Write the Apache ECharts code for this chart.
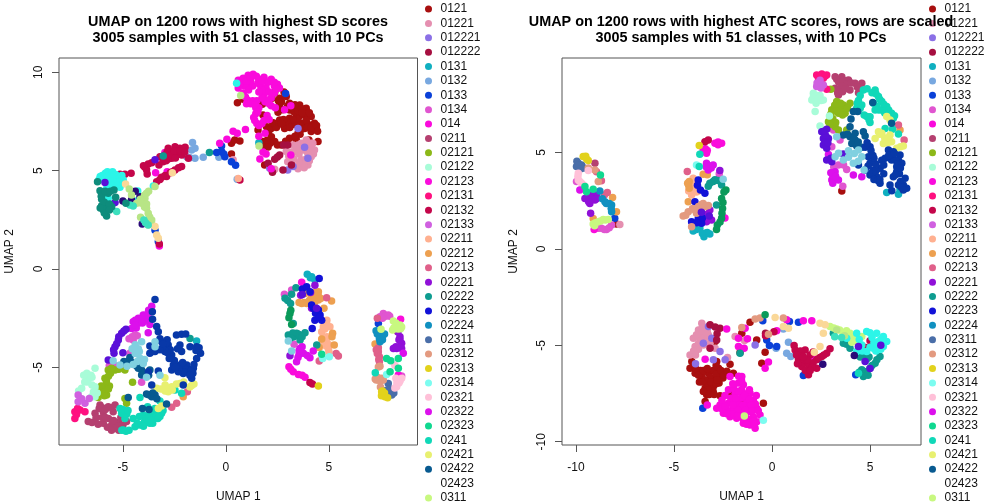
<!DOCTYPE html>
<html>
<head>
<meta charset="utf-8">
<style>html,body{margin:0;padding:0;background:#fff}#chart{width:1008px;height:504px}</style>
<script src="https://cdn.jsdelivr.net/npm/echarts@6/dist/echarts.min.js"></script>
</head>
<body>
<div id="chart"></div>
<script>
// class labels shown in the legends (the list is cut off at the window bottom)
const legendNames = ['0121','01221','012221','012222','0131','0132','0133','0134','014','0211','02121','02122','02123','02131','02132','02133','02211','02212','02213','02221','02222','02223','02224','02311','02312','02313','02314','02321','02322','02323','0241','02421','02422','02423','0311'];
// the classes past the cut off
const hiddenNames = ['0312','0313','0314','0321','0322','0323','0324','0325','0326','0327'];
const classColors = ['#A80F0F','#E58FB0','#8B70E6','#A60F40','#10AFC0','#78A8E0','#0A40D8','#E055D0','#FA0ADC','#B54070','#8CB818','#A8FCD8','#FA0CDC','#FF1080','#C4064A','#D060E0','#FFB090','#EDA050','#E0608A','#9010D8','#0E9C90','#1212D8','#1090C0','#4A6EA8','#E39A80','#E2D21C','#7CFCF0','#FFC0D8','#DC10EC','#10D890','#10D8B8','#E8F070','#085A90','#FFFFFF','#C8F880',
  '#2CF5E8','#2A0A78','#5A10D8','#0A9A5A','#FAD898','#B8E586','#3CE0BE','#0838A8','#80D0E0','#0E8C7C'];

const sdXTicks = [-5, 0, 5];
const sdYTicks = [-5, 0, 5, 10];
const atcXTicks = [-10, -5, 0, 5];
const atcYTicks = [-10, -5, 0, 5];

// left panel, values
const sd_0121 = [[0.56,8.46],[0.84,8.63],[1.77,8.38],[1.8,7.83],[1.56,7.07],[2.37,8.98],[2.82,9.0],[2.24,8.68],[2.61,8.68],[2.93,8.77],[2.61,8.34],[2.53,7.97],[3.09,8.43],[3.09,8.09],[3.58,8.34],[3.9,8.17],[3.82,7.83],[3.42,7.75],[3.09,7.66],[2.61,7.58],[2.37,7.41],[1.97,7.24],[2.05,6.99],[2.85,7.15],[3.0,7.41],[3.42,7.49],[3.74,7.41],[3.82,7.15],[4.3,7.41],[4.39,7.15],[4.14,6.99],[3.5,6.9],[4.14,7.75],[4.47,6.48],[1.88,6.22],[1.8,6.48],[2.37,6.48],[2.21,6.73],[3.09,6.65],[3.0,6.48],[3.42,6.56],[2.69,6.31],[0.27,6.39],[0.43,6.56],[0.68,6.51],[1.88,5.29],[0.27,5.85],[4.03,6.56],[3.9,6.05],[3.18,5.38],[2.8,7.3],[3.6,7.8],[3.3,8.0],[4.0,7.35],[2.75,8.1],[2.2,7.15],[3.25,7.35],[3.65,7.1],[3.3,8.2],[3.5,8.05],[3.7,8.15],[3.7,7.95],[3.5,7.6],[3.25,7.6],[2.95,7.5],[2.8,7.6],[2.45,7.2],[2.25,7.45],[2.1,7.05],[2.7,7.4],[3.1,7.2],[3.55,7.3],[3.9,7.55],[3.95,7.2],[4.15,7.2],[4.4,7.3],[4.45,7.0],[3.6,6.85],[3.35,6.75],[2.9,6.5],[2.15,6.4],[2.05,6.2],[2.5,6.3],[2.55,8.55],[2.7,8.5],[2.5,8.15],[3.0,8.3],[3.35,8.35],[4.05,7.95],[2.0,6.55]];
const sd_01221 = [[2.93,5.97],[3.18,5.8],[3.42,6.05],[3.66,6.39],[3.9,6.56],[4.22,6.39],[4.3,6.05],[4.14,5.71],[3.98,5.29],[3.66,5.21],[3.42,5.21],[3.66,5.55],[3.74,6.05],[3.98,6.22],[3.0,5.46],[2.37,5.07],[0.35,5.55],[3.3,5.6],[3.55,5.85],[3.95,5.95],[4.15,6.2],[3.9,5.6],[3.8,5.35],[4.05,5.5],[3.25,6.3],[3.05,5.75],[3.3,5.95],[3.5,6.3],[3.75,6.3],[4.1,6.4],[4.1,6.0],[4.25,5.85],[4.0,5.8],[3.55,5.4],[3.8,5.15],[3.5,5.1],[3.2,5.95],[3.6,6.1]];
const sd_012221 = [[3.0,5.04],[3.98,5.63],[3.5,7.15],[3.82,6.19],[3.26,5.21],[2.13,5.12]];
const sd_012222 = [[2.61,5.8],[2.37,5.58],[3.0,6.31],[2.26,4.92],[2.77,5.04],[3.18,5.29],[2.05,5.38],[2.8,6.3],[2.5,5.7]];
const sd_0131 = [[3.95,-0.27],[4.16,-0.39],[4.32,-0.56],[-1.42,-3.66],[4.1,-0.45],[1.6,6.42]];
const sd_0132 = [[-1.62,6.43],[-1.5,6.14],[-1.66,6.05],[-1.74,5.66],[-1.5,5.63],[-1.1,5.68],[-1.9,5.71],[-0.34,5.68],[0.55,4.56]];
const sd_0133 = [[-0.21,6.26],[-0.45,5.93],[-0.21,5.97],[-0.05,5.71],[0.27,5.46],[0.47,5.27],[2.9,8.93],[-0.1,5.85],[-3.44,1.97],[-3.28,1.4],[7.4,-2.77]];
const sd_0134 = [[-4.41,-3.36],[-4.5,-3.61],[-4.66,-4.29],[-4.09,-5.76],[-5.66,-4.92],[-5.38,-4.92],[3.19,-1.07],[3.27,-3.41],[3.31,-3.83],[2.84,-1.29],[7.64,-2.26],[7.88,-2.34],[7.48,-2.43],[8.53,-5.44],[-4.3,-3.4],[-4.55,-3.45],[-4.7,-3.55],[-4.55,-4.2],[7.75,-2.4],[7.6,-2.5],[7.95,-2.4]];
const sd_014 = [[0.6,9.6],[0.84,9.7],[1.08,9.85],[1.32,9.9],[1.48,9.8],[1.85,9.75],[2.2,9.65],[2.5,9.4],[2.6,9.2],[2.35,9.3],[0.6,9.2],[0.84,8.95],[1.05,9.35],[1.3,9.3],[1.55,9.45],[1.7,9.25],[1.95,9.2],[1.85,8.9],[1.05,8.6],[1.3,8.55],[1.5,8.55],[1.6,8.2],[1.45,7.9],[1.35,7.7],[1.5,7.4],[1.75,7.4],[2.0,7.8],[2.2,8.7],[2.2,8.3],[2.4,8.2],[1.9,8.5],[2.85,8.1],[3.15,8.3],[0.35,7.0],[0.55,6.9],[0.95,7.1],[1.6,6.75],[1.9,6.9],[0.05,6.6],[-0.3,6.4],[1.8,5.95],[1.65,5.6],[1.95,5.85],[3.15,5.8],[2.2,5.1],[-3.41,4.9],[-2.96,5.93],[-2.85,4.95],[-3.23,1.17],[1.9,9.55],[1.2,9.55],[0.9,9.3],[0.95,8.75],[2.35,8.95],[1.75,9.1],[1.45,8.2],[0.7,9.45],[1.0,9.55],[1.2,9.75],[1.6,9.65],[1.75,9.55],[2.05,9.5],[2.35,9.5],[2.45,9.15],[2.1,9.0],[2.0,8.6],[2.1,8.4],[1.75,8.7],[1.6,9.0],[1.1,9.1],[1.0,8.4],[1.2,8.4],[1.4,8.35],[1.55,8.0],[1.4,7.55],[1.6,7.3],[1.85,7.55],[2.1,7.6]];
const sd_0211 = [[-6.11,-6.92],[-5.71,-7.0],[-5.38,-6.92],[-6.35,-7.34],[-5.95,-7.26],[-5.47,-7.26],[-6.68,-7.76],[-6.35,-7.76],[-5.95,-7.85],[-5.54,-7.93],[-5.2,-7.8],[-4.82,-7.76],[-5.38,-8.1],[-6.0,-7.55],[-6.15,-7.1],[-5.7,-7.6],[-5.25,-8.0],[-5.75,-8.05],[-6.5,-7.8],[-6.2,-7.9],[-5.85,-7.55],[-5.45,-7.7],[-5.1,-7.55],[-5.2,-8.2],[-5.55,-8.2],[-6.0,-7.05],[-5.85,-7.15],[-5.55,-7.05],[-6.3,-7.55],[-5.0,-7.95]];
const sd_02121 = [[-4.9,-5.14],[-5.71,-5.14],[-5.38,-5.14],[-5.87,-5.56],[-5.95,-6.07],[-5.79,-6.41],[-6.2,-6.54],[-4.9,-6.58],[-4.82,-6.83],[-4.53,-5.76],[-5.6,-5.3],[-5.8,-5.85],[-6.1,-6.25],[-5.65,-5.95],[-5.55,-5.05],[-5.2,-5.1],[-5.7,-5.45],[-5.8,-5.7],[-6.05,-5.95],[-5.9,-6.25],[-5.7,-6.1],[-5.9,-6.45]];
const sd_02122 = [[-6.68,-5.56],[-6.85,-5.75],[-7.0,-6.07],[-6.35,-5.99],[-6.52,-6.49],[-6.43,-6.25],[-6.35,-5.05],[-6.75,-5.3],[-6.55,-5.4],[-6.9,-5.4],[-6.7,-5.75],[-6.5,-5.5],[-7.15,-6.2],[-6.25,-6.3],[-6.35,-6.5],[-6.5,-5.9]];
const sd_02123 = [[3.06,-4.97],[3.27,-5.22],[3.52,-5.36],[3.84,-5.51],[3.68,-0.68],[8.48,-2.56],[3.15,-5.1],[3.7,-5.4],[8.37,-5.39]];
const sd_02131 = [[-7.33,-7.26],[-7.33,-7.6],[-7.08,-7.17],[-6.84,-7.26],[-7.2,-7.1],[-7.25,-7.4]];
const sd_02132 = [[-4.6,4.87],[-4.9,4.82],[-5.14,4.82],[-3.82,4.83],[-3.93,5.17],[-3.77,5.34],[-3.25,5.29],[-3.2,5.71],[-2.96,5.8],[-2.63,5.63],[-2.63,5.97],[-2.47,6.22],[-2.23,6.14],[-1.98,6.19],[-2.39,5.8],[-2.14,5.8],[-1.82,5.63],[-3.36,4.44],[-3.12,4.66],[-2.88,4.7],[-2.47,5.04],[-2.15,5.21],[-3.23,1.27],[-2.8,6.14],[0.68,4.53],[4.08,-5.77],[-2.8,5.6],[-3.05,5.45],[-2.7,4.9],[-2.3,6.0],[4.2,-5.85],[-3.05,5.65],[-2.85,5.95],[-2.65,5.8],[-2.5,6.0],[-2.45,5.65],[-2.2,6.0],[-2.0,5.95],[-2.9,5.5],[-2.3,5.15],[-2.6,4.95],[-2.95,4.75],[-3.2,4.55],[-3.85,5.05],[-3.6,5.4],[-4.0,5.25]];
const sd_02133 = [[-7.17,-6.41],[-7.17,-6.75],[-6.84,-6.83],[-6.63,-6.58],[-7.0,-6.6]];
const sd_02211 = [[4.89,-2.77],[4.73,-2.94],[4.65,-3.19],[4.89,-3.7],[4.97,-4.04],[5.05,-2.94],[4.75,-3.6],[4.85,-3.9],[5.0,-4.2],[4.9,-2.6],[0.6,4.6],[4.85,-2.9],[4.8,-3.05],[4.7,-3.75],[4.9,-3.45],[5.0,-3.85],[4.7,-3.5]];
const sd_02212 = [[4.49,-1.16],[4.49,-1.58],[3.84,-1.24],[3.68,-1.75],[3.92,-1.75],[4.24,-1.58],[5.13,-1.63],[4.76,-2.0],[4.65,-3.56],[5.18,-3.27],[5.26,-3.87],[4.53,-3.99],[8.32,-3.16],[7.24,-3.82],[-2.07,-6.49],[4.4,-1.4],[3.55,-1.7],[5.15,-3.45],[4.3,-1.7],[4.15,-1.45],[4.5,-1.4],[3.8,-1.7],[4.05,-1.6],[4.6,-1.5],[4.3,-1.2]];
const sd_02213 = [[5.46,-4.43],[4.53,-4.68],[4.89,-1.46],[7.35,-2.5],[7.4,-4.21],[7.45,-4.46],[7.45,-4.72],[-2.39,-6.83],[-2.63,-7.03],[-1.87,-6.24],[5.35,-4.3],[7.4,-4.0],[7.35,-4.3],[7.42,-4.6],[7.3,-4.1]];
const sd_02221 = [[4.32,-0.82],[3.63,-1.33],[4.11,-1.19],[4.16,-2.0],[8.45,-3.44],[8.53,-3.78],[8.29,-4.04],[8.53,-4.04],[8.13,-4.04],[3.11,-4.41],[8.4,-3.6],[8.35,-3.2],[8.45,-3.6],[8.25,-3.95],[8.4,-3.95]];
const sd_02222 = [[-3.04,5.75],[-0.8,5.93],[3.27,-2.77],[3.03,-3.36],[3.43,-3.27],[3.84,-3.24],[3.6,-3.61],[4.41,-3.87],[2.87,-1.49],[3.0,-1.6],[3.19,-1.29],[3.4,-0.95],[3.14,-1.75],[3.3,-3.45],[3.6,-3.35],[-1.74,-3.53],[3.5,-3.3],[3.25,-3.25],[3.7,-3.45],[3.15,-3.5]];
const sd_02223 = [[4.53,-0.48],[3.71,-1.02],[3.92,-0.9],[4.16,-1.83],[4.24,-2.0],[4.49,-2.09],[4.57,-2.34],[4.32,-2.6],[4.65,-2.6],[4.19,-3.02],[4.08,-1.16],[4.35,-2.25],[4.45,-2.25],[4.35,-2.1],[4.55,-2.45]];
const sd_02224 = [[7.48,-3.36],[7.64,-3.34],[7.48,-3.7],[7.29,-3.14],[7.6,-3.6],[7.55,-3.5],[7.35,-3.3],[7.7,-3.3],[7.45,-3.55]];
const sd_02311 = [[7.88,-5.82],[7.8,-6.16],[8.05,-6.41],[7.9,-6.25],[7.95,-6.1],[8.15,-6.3],[7.75,-6.35]];
const sd_02312 = [[7.48,-4.94],[7.4,-5.64],[7.64,-5.64],[7.25,-5.6],[7.3,-5.65],[7.5,-5.7],[7.55,-5.55],[7.35,-5.5],[7.4,-4.98],[7.5,-6.0]];
const sd_02313 = [[4.49,-5.95],[7.56,-6.24],[7.72,-6.49],[7.55,-6.45],[7.7,-6.3],[7.6,-6.2],[7.85,-6.55]];
const sd_02314 = [[5.02,-4.46],[4.7,-4.55],[7.8,-5.36]];
const sd_02321 = [[8.37,-5.64],[8.29,-5.99],[8.53,-5.56],[8.2,-4.9],[8.3,-5.8],[8.4,-5.8],[8.45,-5.7],[8.2,-6.05],[8.25,-5.55]];
const sd_02322 = [[3.6,-4.04],[3.76,-4.29],[3.55,-4.35],[3.43,-4.72],[4.24,-4.17],[4.08,-4.51],[-3.6,-1.9],[-4.01,-2.34],[-4.25,-2.5],[-4.5,-2.68],[-4.58,-3.02],[-4.25,-2.76],[-3.69,-2.82],[-3.77,-3.24],[8.61,-4.29],[-3.85,-2.45],[-4.35,-3.0],[-3.9,-2.6],[-4.15,-2.55],[-4.4,-2.6],[-4.05,-2.75],[-4.4,-2.85],[-3.7,-2.2],[-3.75,-2.1],[-3.9,-2.35],[3.55,-4.15],[3.7,-3.95],[3.95,-4.4],[3.5,-4.5]];
const sd_02323 = [[4.65,-4.34],[7.8,-4.55],[8.0,-4.66],[8.37,-4.55],[8.37,-5.05],[7.97,-5.22]];
const sd_0241 = [[-4.17,-6.53],[-3.2,-6.71],[-5.06,-7.34],[-4.81,-7.37],[-5.14,-7.09],[-4.5,-7.6],[-4.01,-7.43],[-3.85,-7.6],[-3.52,-7.6],[-4.17,-7.93],[-4.41,-8.02],[-3.69,-7.85],[-4.98,-8.19],[-3.12,-7.34],[-3.69,-7.34],[-2.47,-6.15],[-2.15,-6.32],[7.25,-5.27],[-4.9,-7.6],[-4.7,-8.2],[-3.95,-7.75],[-3.4,-7.4],[-3.6,-7.2],[-3.8,-7.0],[-3.45,-7.1],[-4.3,-7.85],[-4.0,-8.0],[-3.9,-7.55],[-3.55,-7.85],[-3.3,-7.6],[-3.2,-7.5],[-3.75,-7.5],[-4.2,-7.5],[-4.9,-7.35],[-5.0,-7.15],[-4.75,-7.2],[-5.05,-8.2],[-4.85,-8.25],[-3.05,-7.2],[-3.65,-7.7]];
const sd_02421 = [[-2.96,-5.53],[-3.36,-6.07],[-2.8,-6.07],[-2.23,-5.82],[-2.63,-5.99],[-1.66,-5.93],[-3.28,-7.09],[-3.12,-6.97],[-2.8,-6.24],[-2.95,-5.9],[-2.4,-5.85],[-3.15,-6.1],[-2.95,-6.2],[-2.6,-6.15],[-2.05,-5.75],[-1.55,-5.85],[-1.75,-6.0]];
const sd_02422 = [[-4.74,-4.71],[-4.95,-4.71],[-4.33,-4.93],[-4.09,-5.14],[-4.09,-5.39],[-3.69,-5.14],[-3.85,-6.36],[-3.44,-6.41],[-3.6,-6.5],[-4.74,-6.53],[-2.88,-6.87],[-3.73,-7.14],[-4.66,-4.5],[-4.05,-7.1],[-4.8,-4.9],[-4.55,-4.75],[-4.25,-5.05],[-3.95,-5.3],[-3.75,-5.4],[-3.75,-6.4],[-3.55,-6.3],[-3.35,-6.6]];
const sd_02423 = [];
const sd_0311 = [[8.13,-2.65],[8.48,-3.04],[8.09,-3.1],[8.53,-2.95],[7.53,-3.07],[8.3,-2.9],[8.25,-2.75],[8.35,-3.05],[8.15,-3.0],[8.45,-2.85]];
const sd_0312 = [[-6.1,4.7],[-5.85,4.87],[-5.6,4.87],[-5.35,4.8],[-5.2,4.6],[-4.98,4.53],[-5.3,4.44],[-5.87,4.6],[-5.63,4.44],[-5.79,4.1],[-5.38,4.19],[-5.14,4.16],[-5.71,3.6],[-4.28,3.97],[-4.37,3.46],[-3.52,4.22],[0.52,9.44],[-6.15,4.55],[-6.0,4.75],[-5.75,4.95],[-5.5,4.95],[-5.75,4.7],[-5.5,4.65],[-5.5,4.45],[-5.15,4.45],[-5.05,4.75],[-5.65,4.1],[-5.5,4.25],[-5.25,4.25]];
const sd_0313 = [[-5.0,3.46],[-4.4,3.95],[-4.17,3.68],[-4.58,3.51],[-4.06,2.29]];
const sd_0314 = [[-5.87,4.4],[-5.38,3.38],[-3.44,5.55],[-5.75,3.25],[-4.85,-3.07],[-5.06,-3.27],[-5.22,-3.61],[-5.38,-3.95],[-5.43,-4.29],[-5.0,-4.26],[-5.71,-4.63],[3.71,-1.3],[4.4,-2.0],[-4.95,-3.15],[-5.2,-3.45],[-5.3,-3.8],[-5.45,-4.1]];
const sd_0321 = [[3.11,-2.26],[3.06,-2.48],[3.19,-2.82],[3.15,-2.1]];
const sd_0322 = [[-2.6,4.9],[-4.87,4.32],[-3.77,2.24],[-3.44,2.16],[-3.36,1.73],[-3.28,1.56],[-3.6,2.3]];
const sd_0323 = [[-3.44,4.19],[-4.69,4.07],[-3.85,3.85],[-3.93,3.6],[-4.09,3.34],[-4.33,3.34],[-4.58,3.76],[-3.85,3.09],[-3.77,2.83],[-3.6,2.49],[-4.14,2.63],[0.72,8.82],[1.61,6.25],[-3.75,3.95],[-3.95,3.75],[-4.05,3.5],[-3.85,3.3],[-3.95,3.15],[-3.7,2.65],[-4.15,3.55]];
const sd_0324 = [[-5.3,2.92],[-4.66,3.25],[-4.5,3.2],[-3.98,2.49],[-3.77,2.24],[-3.9,2.35]];
const sd_0325 = [[-3.44,-1.55],[-3.12,-3.7],[-2.8,-3.87],[-2.96,-4.2],[-2.63,-4.37],[-2.15,-3.32],[-2.23,-3.87],[-2.15,-4.2],[-1.74,-3.95],[-1.42,-3.95],[-1.23,-4.29],[-1.42,-4.55],[-3.44,-4.2],[-3.69,-4.29],[-2.55,-4.88],[-2.63,-5.14],[-2.23,-4.88],[-1.9,-4.88],[-1.58,-5.05],[-1.66,-5.56],[-2.07,-5.31],[-2.31,-5.22],[-3.76,-5.22],[-3.28,-5.19],[-3.6,-5.9],[-2.07,-5.9],[-3.57,-2.17],[-3.56,-2.56],[-3.36,-2.93],[-3.28,-3.19],[-3.69,-3.92],[-2.85,-3.6],[-2.7,-4.1],[-1.95,-3.3],[-1.85,-5.15],[-1.6,-5.3],[-2.0,-5.05],[-3.05,-3.95],[-3.2,-4.1],[-2.85,-4.25],[-2.4,-3.35],[-2.35,-4.05],[-2.9,-3.75],[-2.5,-4.65],[-2.3,-5.0],[-2.1,-4.75],[-2.0,-5.25],[-1.7,-5.2],[-1.55,-4.85],[-1.75,-5.4],[-1.45,-4.15],[-1.3,-4.0],[-2.45,-5.0],[-2.75,-4.55],[-3.45,-4.05],[-3.55,-4.2],[-3.2,-3.55],[-3.05,-3.8]];
const sd_0326 = [[-4.41,-4.03],[-4.09,-3.7],[-3.44,-3.7],[-3.44,-3.95],[-4.17,-4.54],[-4.01,-4.8],[-5.47,-4.66],[-5.14,-4.88],[-3.2,-5.4],[-3.85,-5.5],[3.19,-4.17],[3.03,-3.66],[-4.2,-4.2],[-4.55,-4.05],[-4.4,-4.3],[-4.25,-4.05],[-3.95,-4.6],[-4.3,-4.7],[-4.5,-4.85],[-4.8,-4.95],[-4.4,-3.85]];
const sd_0327 = [[-6.23,4.44],[-6.11,3.98],[-6.0,3.8],[-6.03,3.55],[-5.71,3.85],[-5.43,4.02],[-5.35,3.65],[-6.03,3.22],[-5.79,3.09],[-5.54,3.17],[-5.95,3.0],[-5.79,2.7],[-4.85,3.34],[-5.9,3.4],[-5.65,3.3],[-6.05,3.7],[-5.85,3.95],[-5.6,3.95],[-5.9,2.85],[-5.65,3.0],[-6.1,3.1]];
const sdSeriesData = [sd_0121,sd_01221,sd_012221,sd_012222,sd_0131,sd_0132,sd_0133,sd_0134,sd_014,sd_0211,sd_02121,sd_02122,sd_02123,sd_02131,sd_02132,sd_02133,sd_02211,sd_02212,sd_02213,sd_02221,sd_02222,sd_02223,sd_02224,sd_02311,sd_02312,sd_02313,sd_02314,sd_02321,sd_02322,sd_02323,sd_0241,sd_02421,sd_02422,sd_02423,sd_0311,sd_0312,sd_0313,sd_0314,sd_0321,sd_0322,sd_0323,sd_0324,sd_0325,sd_0326,sd_0327];

// right panel
const atc_0121 = [[-4.09,-5.84],[-4.18,-6.19],[-3.92,-6.45],[-3.58,-6.62],[-3.24,-6.45],[-2.99,-6.71],[-2.73,-6.19],[-2.82,-5.84],[-2.65,-6.53],[-3.24,-6.88],[-3.41,-7.23],[-2.99,-7.14],[-2.7,-6.95],[-3.33,-7.57],[-2.65,-7.61],[-3.41,-7.92],[-3.92,-5.32],[-2.9,-4.8],[-1.97,-6.45],[-2.05,-7.57],[-1.54,-7.97],[-0.44,-8.0],[-1.63,-5.37],[-0.35,-5.36],[-0.52,-5.93],[-2.14,-5.98],[-1.12,-3.8],[-0.78,-4.72],[-1.54,-4.37],[-2.48,-8.3],[3.56,3.0],[-7.93,1.29],[-3.65,-6.3],[-3.0,-6.3],[-3.7,-6.9],[-3.0,-7.4],[-3.3,-7.1],[-2.5,-6.7],[-3.9,-6.2],[-4.0,-6.0],[-3.75,-6.55],[-3.5,-6.3],[-3.3,-6.2],[-3.15,-6.65],[-2.85,-6.5],[-2.85,-6.05],[-3.4,-6.8],[-3.55,-6.9],[-3.25,-7.3],[-3.1,-6.9],[-2.85,-7.0],[-2.6,-6.3],[-2.45,-6.55],[-2.3,-6.35],[-3.5,-7.4],[-3.2,-7.55],[-2.95,-7.55],[-2.8,-6.8]];
const atc_01221 = [[-3.58,-3.85],[-3.75,-4.2],[-4.01,-4.63],[-3.7,-4.6],[-3.92,-5.06],[-4.18,-5.5],[-3.5,-4.98],[-3.16,-4.89],[-2.9,-5.15],[-2.27,-5.63],[-1.88,-4.54],[-1.4,-4.75],[-3.6,-4.3],[-3.4,-4.6],[-3.75,-5.2],[-7.76,1.27],[-3.3,-4.3],[-3.85,-4.45],[-3.55,-4.05],[-3.6,-4.75],[-3.75,-4.9],[-4.0,-5.3],[-3.9,-5.5],[-3.25,-4.45],[-3.45,-4.3]];
const atc_012221 = [[-3.24,-4.02],[-3.5,-4.89],[-2.99,-5.75],[-2.39,-5.75],[-0.86,-4.98],[-3.07,-4.63],[-2.65,-5.32],[-3.9,-5.95]];
const atc_012222 = [[-3.16,-3.94],[-2.65,-4.11],[-2.82,-4.72],[-3.16,-5.15],[-0.33,-4.37],[-2.9,-4.05],[-2.8,-4.4]];
const atc_0131 = [[6.53,3.05],[6.45,2.83],[5.85,2.93],[-4.02,0.93],[-3.68,1.07],[-3.42,0.81],[-3.17,0.77],[-3.47,0.63],[-3.3,0.85],[-3.55,0.8],[-3.85,1.0]];
const atc_0132 = [[0.84,-4.84],[0.75,-5.41],[0.96,-5.58],[0.21,-5.15],[0.58,-4.15]];
const atc_0133 = [[-3.53,-8.26],[-0.47,-3.73],[0.89,-3.77],[1.35,-3.8],[-0.27,-4.72],[-0.13,-5.01],[0.24,-5.06],[1.6,-6.57],[4.27,-6.53],[-8.02,1.59]];
const atc_0134 = [[2.7,5.86],[3.13,6.17],[3.47,5.65],[3.05,5.3],[3.39,4.35],[3.65,4.35],[3.81,4.12],[3.15,4.25],[-9.97,3.49],[-8.7,1.07],[-8.44,1.01],[-8.18,1.24],[-2.69,3.89],[-2.74,3.61],[3.61,3.25],[-8.85,1.07],[-8.55,1.0],[-8.3,1.1]];
const atc_014 = [[-2.31,-4.15],[-3.41,-5.72],[-1.71,-4.63],[-1.37,-4.11],[-1.25,-4.66],[-1.71,-5.06],[-1.42,-5.15],[-0.18,-5.87],[-0.35,-6.19],[-3.3,-8.09],[-2.14,-6.62],[-1.54,-6.62],[-1.71,-6.96],[-1.46,-7.05],[-2.22,-7.31],[-1.88,-7.49],[-1.46,-7.49],[-1.12,-7.49],[-0.95,-7.83],[-1.29,-7.83],[-1.8,-8.0],[-2.22,-8.0],[-2.65,-8.09],[-2.82,-8.26],[-2.48,-8.52],[-2.14,-8.7],[-1.8,-8.78],[-1.37,-8.61],[-1.12,-8.44],[-0.78,-8.26],[-0.61,-8.61],[-1.12,-9.13],[-0.86,-9.3],[-1.46,-9.04],[-0.78,-8.96],[0.75,-3.68],[0.24,-4.25],[1.6,-3.73],[2.03,-3.73],[2.08,-5.58],[-1.63,-8.26],[-2.0,-8.3],[-1.3,-8.15],[-1.6,-8.6],[-0.95,-8.7],[-2.3,-8.35],[-1.9,-7.8],[-1.55,-7.3],[-2.4,-7.6],[-2.1,-7.75],[-1.95,-7.2],[-1.7,-7.4],[-1.6,-7.75],[-1.4,-7.6],[-1.15,-7.8],[-0.85,-8.05],[-1.05,-8.1],[-1.5,-8.1],[-1.75,-8.35],[-2.0,-8.55],[-2.3,-8.55],[-2.55,-8.3],[-1.35,-8.35],[-1.0,-8.4],[-1.2,-8.85],[-1.45,-8.85],[-0.95,-8.95],[-0.7,-8.4],[-0.9,-9.1],[-1.3,-9.1],[-1.75,-8.65],[-2.0,-8.1],[-2.4,-8.15],[-1.7,-6.6],[-1.55,-6.85],[-2.0,-7.0],[-1.85,-7.75],[-2.55,-7.85],[-1.15,-7.3],[-0.8,-7.6]];
const atc_0211 = [[3.22,8.93],[3.56,8.93],[3.9,8.76],[4.24,8.59],[4.58,8.59],[3.73,8.5],[3.98,8.24],[3.4,8.65],[4.41,8.1],[3.39,7.98],[3.22,8.33],[-9.03,4.44],[3.45,8.3],[3.3,8.8],[3.65,8.75],[3.8,8.55],[4.05,8.6],[3.55,8.45],[3.35,8.1],[3.6,8.15],[4.35,8.4],[3.75,8.3]];
const atc_02121 = [[3.0,8.28],[3.3,7.64],[3.64,7.46],[3.73,7.03],[3.39,7.03],[3.05,7.21],[3.98,7.55],[2.88,6.6],[3.22,6.34],[3.39,6.17],[3.81,6.17],[3.45,7.3],[3.1,6.75],[3.7,7.25],[3.5,7.55],[3.2,7.45],[3.55,7.1],[3.85,7.3],[3.25,7.15],[3.1,6.5],[3.25,6.55],[2.95,6.45],[3.6,6.95],[3.0,7.0]];
const atc_02122 = [[2.11,8.07],[2.03,7.72],[2.37,7.81],[2.62,7.72],[2.2,7.12],[2.93,6.89],[2.45,6.37],[2.3,7.95],[2.25,7.55],[2.45,7.95],[2.5,7.7],[2.1,7.85],[2.3,7.75]];
const atc_02123 = [[-3.51,5.13],[-2.91,5.48],[-2.57,5.48],[-3.34,4.96],[-2.4,1.6],[-9.07,1.01],[-2.75,5.4],[-3.4,5.2],[-2.75,5.55],[-3.3,5.1]];
const atc_02131 = [[2.28,9.02],[2.54,9.07],[2.79,9.02],[2.37,8.85],[2.62,8.85],[2.79,8.28],[2.45,8.95],[2.7,8.95]];
const atc_02132 = [[-3.25,5.65],[-3.42,5.56],[1.13,-5.01],[1.18,-5.24],[1.35,-5.75],[1.69,-5.24],[1.94,-5.5],[1.6,-5.84],[1.86,-6.01],[2.28,-5.75],[2.54,-5.58],[2.79,-5.41],[2.96,-5.18],[2.28,-6.19],[1.86,-6.53],[1.52,-6.1],[5.0,-4.77],[4.78,-5.11],[0.1,-4.3],[-0.33,-4.5],[1.3,-5.4],[2.1,-5.9],[1.45,-5.3],[1.25,-5.5],[1.55,-5.55],[1.8,-5.75],[2.1,-5.35],[2.4,-5.65],[2.05,-6.15],[1.7,-6.3],[1.95,-6.3],[1.3,-5.95],[2.65,-5.5],[1.6,-5.6]];
const atc_02133 = [[2.37,8.59],[2.28,8.42],[2.62,8.5],[2.45,8.75],[2.5,8.35],[2.3,8.6]];
const atc_02211 = [[-4.02,3.66],[-4.1,3.32],[-3.93,3.06],[-4.1,2.8],[-3.75,3.0],[-4.25,3.0],[-4.15,3.2],[-4.0,3.5],[-3.95,3.2],[-4.05,2.95],[-3.85,2.95]];
const atc_02212 = [[6.53,6.17],[-3.51,3.87],[-4.22,3.49],[-4.22,3.14],[-4.27,2.45],[-8.13,2.66],[-7.93,1.93],[-9.12,1.58],[-3.3,3.85],[-4.25,3.3],[-4.3,3.4]];
const atc_02213 = [[6.45,6.43],[6.74,5.65],[-8.7,3.54],[-8.4,2.92],[-8.95,4.0],[-4.32,4.01],[-8.55,2.8]];
const atc_02221 = [[-9.2,2.8],[-8.95,2.8],[-9.29,2.36],[-9.03,2.54],[-9.25,1.85],[-9.54,2.62],[-3.17,2.02],[-3.08,1.5],[-3.34,1.41],[-2.66,4.06],[-9.15,2.6],[-9.3,2.65],[-8.95,2.6],[-9.35,2.45],[-3.3,1.8],[-3.25,2.2],[-3.4,1.6],[-3.55,1.55]];
const atc_02222 = [[3.13,-4.37],[3.64,-4.89],[3.98,-5.15],[4.66,-5.58],[5.51,-5.58],[5.26,-5.93],[5.0,-6.19],[4.83,-6.36],[4.58,-6.27],[4.66,-6.62],[-3.17,3.4],[-2.91,3.58],[-2.83,2.28],[-2.57,3.32],[-1.63,-5.41],[4.85,-5.7],[5.1,-6.05],[5.35,-5.75],[4.95,-5.6],[4.45,-6.4],[4.9,-6.55],[3.8,-4.95],[4.5,-5.6],[-3.0,3.5],[-2.75,3.55],[-3.25,3.25]];
const atc_02223 = [[-3.76,3.57],[-3.42,2.88],[-3.93,2.45],[-3.76,1.58],[-3.59,1.33],[-4.1,1.41],[-3.55,1.6],[-3.85,1.35],[-3.8,3.3],[-3.65,3.05]];
const atc_02224 = [[-8.78,3.0],[-8.52,2.45],[-8.18,2.28],[-8.18,1.93],[-8.3,2.35],[-8.65,2.6],[-8.45,2.35],[-8.2,2.1]];
const atc_02311 = [[-9.88,4.44],[-9.97,4.27],[-9.71,4.35],[-9.95,4.55],[-9.85,4.35],[-9.6,4.2],[-9.75,4.15]];
const atc_02312 = [[-9.03,4.09],[-9.37,4.2],[-8.86,3.49],[-0.86,-3.63],[-0.61,-3.59],[-0.18,-4.42],[0.58,-3.59],[-1.54,-4.08],[-3.59,2.1],[-3.93,2.02],[-4.27,1.93],[-4.53,1.71],[-3.51,2.36],[-4.1,1.15],[-3.75,2.2],[-3.6,2.3],[-4.05,2.1],[-3.4,2.2],[-3.85,1.85],[-4.4,1.75],[-3.25,2.25]];
const atc_02313 = [[-9.63,4.79],[-9.37,4.58],[-3.71,5.36],[-9.5,4.8],[-9.45,4.65]];
const atc_02314 = [[-3.85,4.35],[-0.44,-8.89]];
const atc_02321 = [[-9.88,3.92],[-9.88,3.57],[-9.71,3.4],[-9.37,4.06],[-9.9,3.75],[-9.8,3.5],[-9.6,3.3]];
const atc_02322 = [[2.88,4.9],[3.22,4.0],[3.05,3.57],[3.39,3.57],[3.1,3.8],[4.15,3.83],[4.58,3.74],[-9.8,3.06],[-3.34,4.44],[-3.0,4.35],[-3.25,4.09],[-3.1,4.2],[3.0,3.95],[3.1,3.4],[3.25,3.75],[-3.15,4.3],[-3.35,4.25]];
const atc_02323 = [[-8.75,3.83],[-9.54,3.23],[-9.46,2.97],[-9.12,3.09]];
const atc_0241 = [[4.66,8.24],[5.26,8.24],[5.43,7.9],[5.6,7.64],[5.85,7.38],[4.41,7.69],[4.58,7.46],[4.32,7.29],[5.17,7.55],[5.26,7.2],[5.6,7.2],[6.1,7.03],[4.83,6.86],[5.0,6.55],[5.77,6.25],[6.19,6.77],[6.45,5.96],[-3.68,4.91],[-3.71,4.27],[4.41,-6.45],[5.95,7.15],[4.5,7.95],[4.85,8.3],[5.1,8.1],[5.3,8.05],[5.5,7.75],[5.7,7.5],[5.95,7.2],[5.35,7.4],[5.45,7.2],[5.75,7.05],[6.0,6.95],[6.25,6.9],[4.5,7.3],[4.35,7.55],[4.95,6.7],[5.0,6.85],[4.7,6.95],[6.15,6.2]];
const atc_02421 = [[5.43,6.08],[5.85,6.86],[6.02,6.69],[5.26,5.73],[5.6,6.0],[5.68,5.47],[6.02,5.91],[6.1,5.56],[6.7,5.34],[6.36,5.22],[5.75,5.75],[5.9,5.75],[5.5,5.95],[6.55,5.3],[5.9,5.5]];
const atc_02422 = [[5.14,7.59],[4.37,7.12],[4.15,7.12],[4.03,6.74],[3.98,6.34],[3.64,5.91],[3.98,5.82],[4.24,6.0],[4.66,6.08],[4.75,5.86],[4.24,5.65],[4.07,5.47],[4.32,5.34],[4.58,5.27],[6.1,6.51],[4.15,5.75],[3.85,5.95],[4.4,5.55]];
const atc_02423 = [];
const atc_0311 = [[-8.61,1.53],[-9.12,1.29],[-8.86,1.41],[-8.35,1.53],[2.96,-4.02],[3.3,-4.15],[3.64,-4.37],[3.98,-4.37],[4.24,-4.54],[4.07,-4.84],[4.58,-4.54],[-1.41,-8.66],[-8.75,1.45],[-9.0,1.35],[-8.5,1.5],[-9.05,1.2],[3.15,-4.1],[3.45,-4.2],[3.8,-4.25],[4.1,-4.55],[4.2,-4.75],[3.9,-4.6]];
const atc_0312 = [[3.81,-4.63],[4.32,-4.37],[4.83,-4.28],[5.34,-4.37],[5.68,-4.54],[5.85,-4.8],[5.43,-4.8],[5.17,-5.15],[4.83,-5.32],[4.58,-4.98],[4.32,-5.32],[5.68,-5.06],[5.1,-4.6],[5.0,-4.35],[5.55,-4.7],[5.6,-5.0],[5.3,-5.1],[5.3,-5.3],[5.0,-5.1],[4.6,-5.3],[4.45,-4.7],[5.2,-4.85],[5.55,-5.2]];
const atc_0313 = [[4.2,-5.53],[2.59,-5.98]];
const atc_0314 = [[2.54,6.08],[2.62,5.73],[2.88,5.73],[2.62,5.39],[2.79,5.22],[3.05,4.52],[2.79,4.61],[3.64,4.92],[2.79,6.2],[4.75,-5.84],[4.41,-5.06],[5.55,-5.0],[5.0,-6.2],[-3.6,1.9],[-3.2,1.7],[2.75,5.85],[2.7,5.55],[2.85,5.5],[3.0,4.7],[2.65,6.1]];
const atc_0321 = [[-2.35,3.06],[-2.57,2.62],[-2.52,2.1],[-2.57,1.59],[-2.79,1.24],[-2.83,1.01],[-0.35,-3.42],[-2.5,2.4],[-2.55,1.85],[-2.65,1.4],[-2.45,2.95]];
const atc_0322 = [[0.16,-3.56],[0.84,-4.11],[0.58,-4.02],[2.45,-3.85],[2.71,-3.94],[2.62,-4.37],[2.16,-5.36],[2.45,-5.06]];
const atc_0323 = [[3.3,-4.2],[3.7,-4.5]];
const atc_0324 = [[3.2,-4.55],[3.55,-4.6]];
const atc_0325 = [[4.75,5.27],[5.0,5.3],[5.94,5.13],[6.19,5.04],[6.53,4.87],[5.77,4.7],[6.1,4.61],[6.45,4.6],[5.6,4.6],[6.36,4.26],[6.62,4.44],[6.36,4.0],[4.92,4.78],[5.0,4.44],[4.75,4.09],[5.17,4.09],[5.51,4.18],[5.34,3.74],[5.0,3.83],[5.51,3.4],[6.19,3.74],[6.79,3.66],[6.7,3.31],[6.87,3.14],[6.45,3.31],[6.02,3.31],[6.11,3.02],[4.41,4.35],[4.85,5.5],[5.3,4.4],[5.7,3.9],[5.2,4.7],[5.15,4.85],[4.9,4.3],[5.1,3.95],[5.3,4.05],[5.2,3.6],[5.7,4.35],[6.0,4.85],[6.15,4.8],[6.3,4.6],[6.4,4.4],[6.5,3.9],[6.55,3.5],[6.6,3.2],[6.3,3.85],[5.95,4.85],[6.7,3.05],[5.05,5.1],[5.4,3.55],[5.5,3.6],[6.55,4.2],[6.25,4.95]];
const atc_0326 = [[3.3,5.82],[3.9,5.09],[3.39,4.96],[3.22,4.78],[4.41,5.13],[4.58,4.78],[4.15,4.44],[3.64,4.61],[4.7,4.09],[4.2,4.95],[-2.49,3.61],[3.9,4.75],[4.4,4.55]];
const atc_0327 = [];
const atcSeriesData = [atc_0121,atc_01221,atc_012221,atc_012222,atc_0131,atc_0132,atc_0133,atc_0134,atc_014,atc_0211,atc_02121,atc_02122,atc_02123,atc_02131,atc_02132,atc_02133,atc_02211,atc_02212,atc_02213,atc_02221,atc_02222,atc_02223,atc_02224,atc_02311,atc_02312,atc_02313,atc_02314,atc_02321,atc_02322,atc_02323,atc_0241,atc_02421,atc_02422,atc_02423,atc_0311,atc_0312,atc_0313,atc_0314,atc_0321,atc_0322,atc_0323,atc_0324,atc_0325,atc_0326,atc_0327];

const fontName = '"Liberation Sans", Arial, sans-serif';
const allNames = legendNames.concat(hiddenNames);

let myChart = echarts.init(document.getElementById('chart'), null, {renderer: 'canvas'});

function makeSeries(list, axisIndex) {
  return list.map(function (pts, i) {
    return {
      name: allNames[i],
      type: 'scatter',
      xAxisIndex: axisIndex,
      yAxisIndex: axisIndex,
      symbol: 'circle',
      symbolSize: 7.5,
      silent: true,
      itemStyle: {color: classColors[i], opacity: 1},
      data: pts
    };
  });
}

function makeXAxis(index, lo, hi, ticks) {
  return {
    type: 'value', gridIndex: index, min: lo, max: hi,
    name: 'UMAP 1', nameLocation: 'middle', nameGap: 46,
    nameTextStyle: {fontFamily: fontName, fontSize: 12, color: '#111'},
    splitLine: {show: false},
    axisLine: {show: false, onZero: false},
    axisTick: {show: true, length: 7, customValues: ticks, lineStyle: {color: '#555'}},
    axisLabel: {show: true, customValues: ticks, margin: 17, fontFamily: fontName, fontSize: 12, color: '#111'}
  };
}

function makeYAxis(index, lo, hi, ticks, gap) {
  return {
    type: 'value', gridIndex: index, min: lo, max: hi,
    name: 'UMAP 2', nameLocation: 'middle', nameGap: gap, nameRotate: 90,
    nameTextStyle: {fontFamily: fontName, fontSize: 12, color: '#111'},
    splitLine: {show: false},
    axisLine: {show: false, onZero: false},
    axisTick: {show: true, length: 7, customValues: ticks, lineStyle: {color: '#555'}},
    axisLabel: {show: true, customValues: ticks, rotate: 90, margin: 14, fontFamily: fontName, fontSize: 12, color: '#111'}
  };
}

function makeLegend(leftPos) {
  return {
    show: true, orient: 'vertical', left: leftPos, top: 2, height: 560, padding: 0,
    data: legendNames, selectedMode: false, icon: 'circle',
    itemWidth: 12, itemHeight: 7, itemGap: 0.38,
    textStyle: {fontFamily: fontName, fontSize: 12, color: '#111', lineHeight: 14, padding: [0, 0, 0, 1]}
  };
}

function makeTitle(text, center) {
  return {
    text: text, left: center, top: 14, padding: 0, textAlign: 'center',
    textStyle: {fontFamily: fontName, fontSize: 14.4, fontWeight: 'bold', color: '#000', lineHeight: 16}
  };
}

let option = {
  animation: false,
  backgroundColor: '#fff',
  title: [
    makeTitle('UMAP on 1200 rows with highest SD scores\n3005 samples with 51 classes, with 10 PCs', 238),
    makeTitle('UMAP on 1200 rows with highest ATC scores, rows are scaled\n3005 samples with 51 classes, with 10 PCs', 741)
  ],
  legend: [makeLegend(425), makeLegend(929)],
  grid: [
    {left: 59, top: 58, width: 358.5, height: 387, outerBoundsMode: 'none', show: true, borderColor: '#555', borderWidth: 1, backgroundColor: 'transparent'},
    {left: 562, top: 58, width: 359, height: 387, outerBoundsMode: 'none', show: true, borderColor: '#555', borderWidth: 1, backgroundColor: 'transparent'}
  ],
  xAxis: [makeXAxis(0, -8.1, 9.3, sdXTicks), makeXAxis(1, -10.71, 7.6, atcXTicks)],
  yAxis: [makeYAxis(0, -8.95, 10.73, sdYTicks, 43), makeYAxis(1, -10.17, 9.9, atcYTicks, 42)],
  series: makeSeries(sdSeriesData, 0).concat(makeSeries(atcSeriesData, 1))
};
myChart.setOption(option);
</script>
</body>
</html>
